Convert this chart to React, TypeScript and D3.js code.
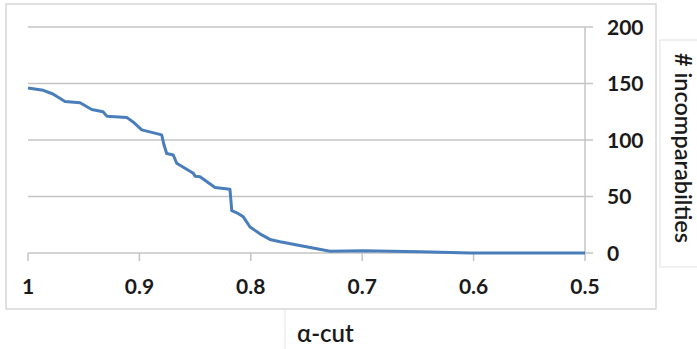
import React from "react";
import * as d3 from "d3";

const alphaValues = [1.0, 0.9863, 0.9776, 0.9668, 0.9533, 0.9428, 0.9327, 0.9291, 0.9114, 0.9057, 0.8979, 0.88, 0.8779, 0.8755, 0.8696, 0.8665, 0.8516, 0.85, 0.8456, 0.8321, 0.8187, 0.8171, 0.8115, 0.8067, 0.8007, 0.7902, 0.7828, 0.7738, 0.7289, 0.6993, 0.648, 0.603, 0.5];
const incomparabilities = [146, 144, 140.7, 134, 133, 127, 125, 121, 120, 116, 109, 104.5, 95.6, 88, 86.7, 79.4, 70.5, 68, 67.5, 58, 56.4, 37.4, 35, 32, 23, 16, 12, 10, 1.5, 2, 1, 0, 0];
const xTicks = [1, 0.9, 0.8, 0.7, 0.6, 0.5];
const xTickLabels = ["1", "0.9", "0.8", "0.7", "0.6", "0.5"];
const yTicks = [0, 50, 100, 150, 200];
const xTitle = "α-cut";
const yTitle = "# incomparabilties";

export default function App() {
  const W = 697, H = 349;
  const x = d3.scaleLinear().domain([1, 0.5]).range([28, 585]);
  const y = d3.scaleLinear().domain([0, 200]).range([253, 27]);
  const pts = alphaValues.map((a, i) => [a, incomparabilities[i]] as [number, number]);
  const line = d3.line<[number, number]>().x(d => x(d[0])).y(d => y(d[1]));
  const font = "Lato, 'Open Sans', sans-serif";
  const textColor = "#1a1a1a";
  const grid = "#c4c4c4";
  return (
    <div style={{ position: "absolute", left: 0, top: 0 }}>
      <svg width={W} height={H} style={{ display: "block", background: "#fff" }}>
        <rect x={6} y={4} width={650} height={305} fill="none" stroke="#d6d6d6" strokeWidth={1.5} />
        {yTicks.filter(t => t > 0).map(t => (
          <line key={t} x1={x(1)} x2={593} y1={y(t)} y2={y(t)} stroke={grid} strokeWidth={1.5} />
        ))}
        <line x1={x(1)} x2={593} y1={y(0)} y2={y(0)} stroke={grid} strokeWidth={1.5} />
        <line x1={x(0.5)} x2={x(0.5)} y1={y(200)} y2={y(0)} stroke={grid} strokeWidth={1.5} />
        {xTicks.map(t => (
          <line key={t} x1={x(t)} x2={x(t)} y1={y(0)} y2={y(0) + 8} stroke={grid} strokeWidth={1.5} />
        ))}
        <path d={line(pts) || ""} fill="none" stroke="#4a7ebb" strokeWidth={3} strokeLinejoin="round" />
        {xTicks.map((t, i) => (
          <text key={t} x={x(t)} y={294} textAnchor="middle" fontFamily={font} fontWeight="bold" fontSize={21} fill={textColor}>
            {xTickLabels[i]}
          </text>
        ))}
        {yTicks.map(t => (
          <text key={t} x={607} y={y(t)} dy="0.36em" textAnchor="start" fontFamily={font} fontWeight="bold" fontSize={21} fill={textColor}>
            {t}
          </text>
        ))}
        <rect x={660} y={40} width={50} height={227} fill="none" stroke="#e2e2e2" strokeWidth={1} />
        <text transform={`translate(675,148) rotate(90)`} textAnchor="middle" fontFamily={font} fontSize={23.5} fill={textColor} fontWeight={600}>
          {yTitle}
        </text>
        <line x1={285} x2={285} y1={310} y2={349} stroke="#e2e2e2" strokeWidth={1} />
        <text x={297} y={342} fontFamily={font} fontSize={24} fill={textColor} fontWeight={600}>
          {xTitle}
        </text>
      </svg>
    </div>
  );
}
